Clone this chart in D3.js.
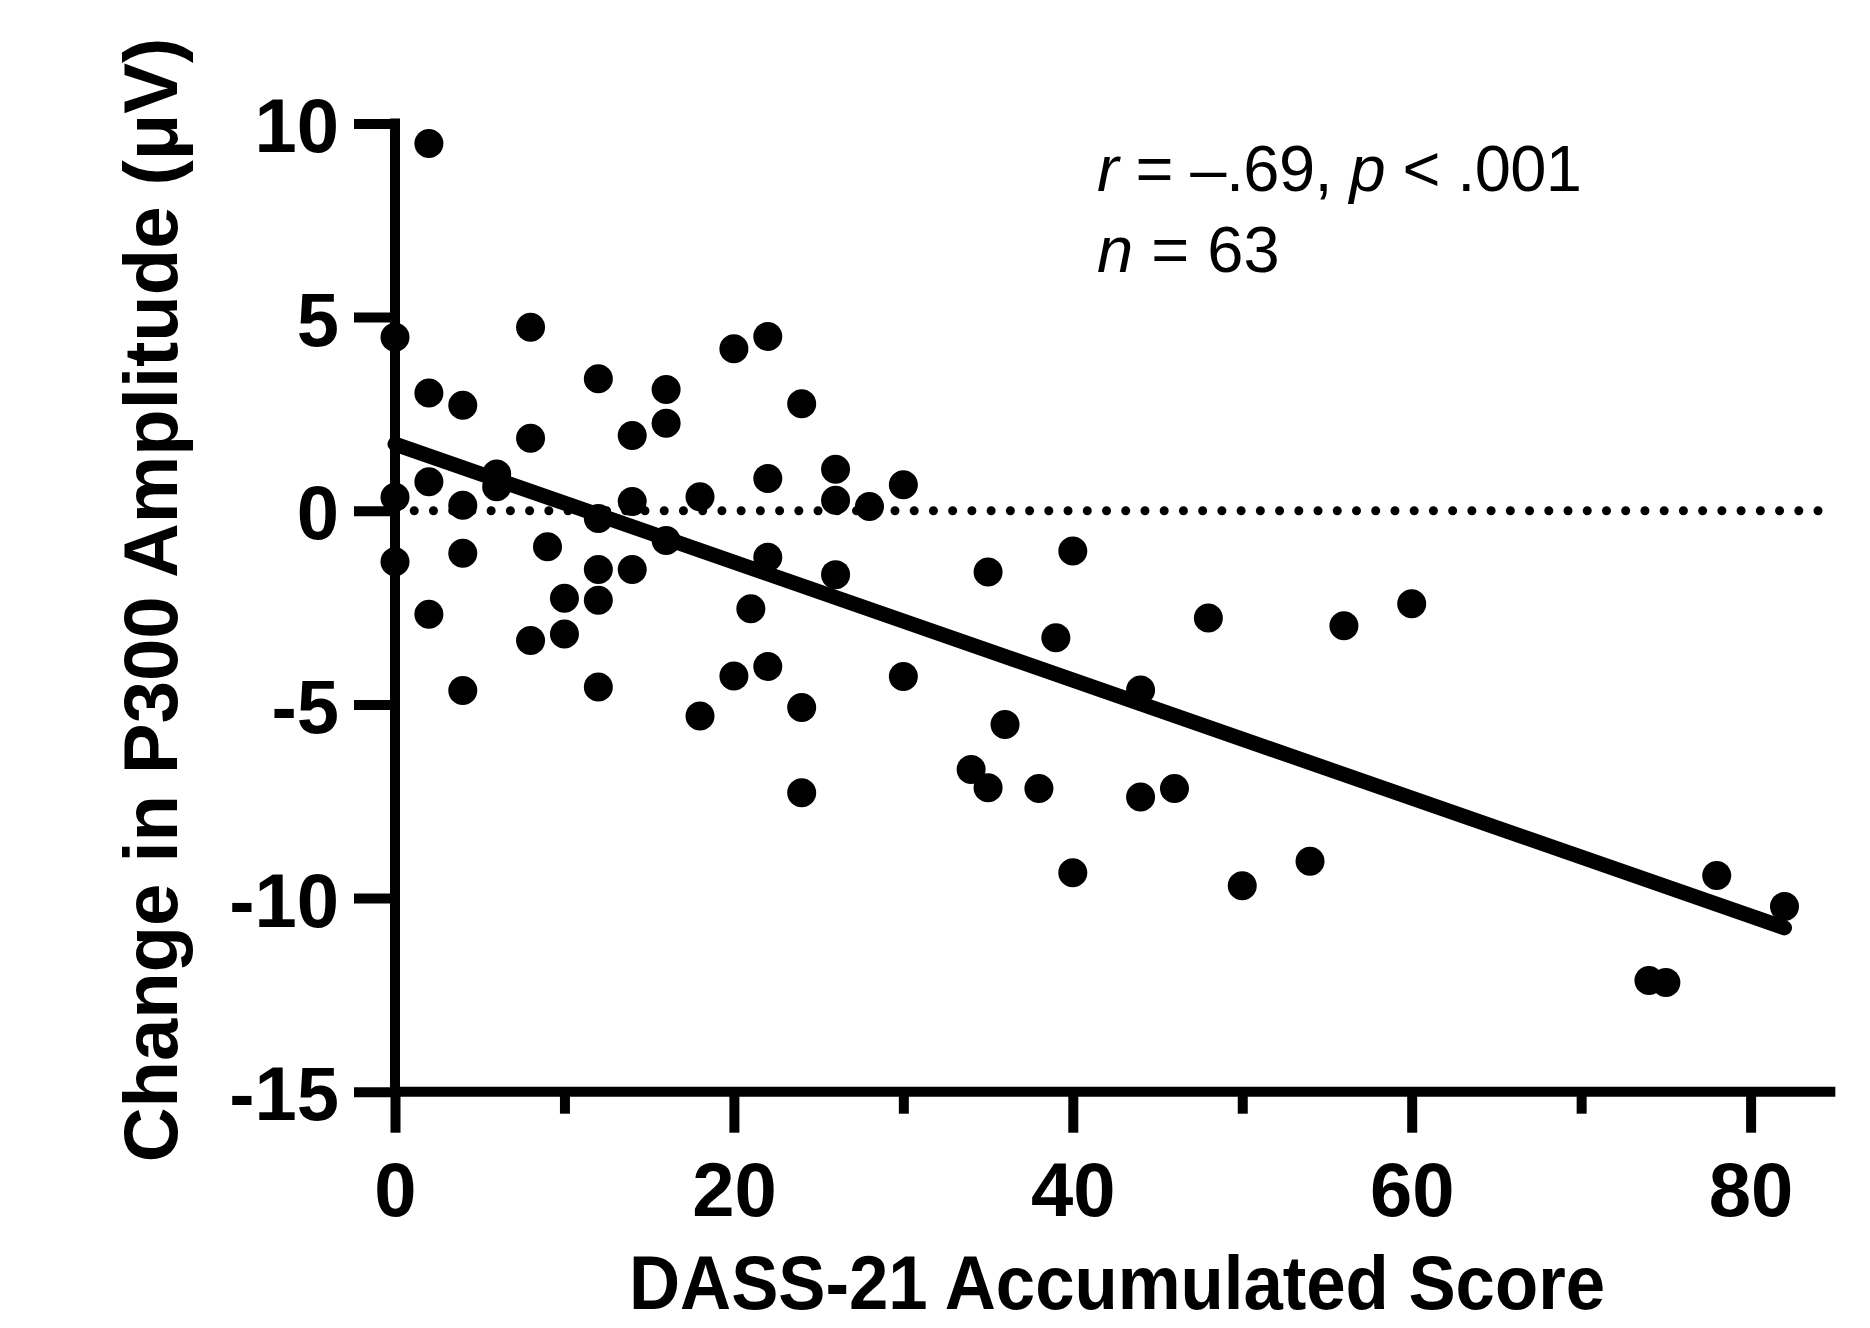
<!DOCTYPE html>
<html><head><meta charset="utf-8">
<script src="https://cdn.jsdelivr.net/npm/d3@7"></script>
<style>body{margin:0;background:#fff}</style>
</head><body>
<script>
// ---- data ----
const dassScore = [
  0,0,0, 2,2,2,2, 4,4,4,4, 6,6, 8,8,8, 9, 10,10, 12,12,12,12,12,
  14,14,14, 16,16,16, 18,18, 20,20, 21, 22,22,22,22, 24,24,24, 26,26,26,
  28, 30,30, 34, 35,35, 36, 38, 39, 40,40, 44,44, 46, 48, 50, 54, 56, 60,
  74, 75, 78, 82
];
const p300Change = [
  4.48,0.35,-1.32, 9.48,3.04,0.75,-2.67, 2.72,0.14,-1.10,-4.64, 0.95,0.62,
  4.74,1.87,-3.35, -0.93, -2.26,-3.18, 3.41,-0.20,-1.52,-2.31,-4.55,
  1.94,0.24,-1.52, 3.13,2.26,-0.77, 0.36,-5.30, 4.18,-4.27, -2.53,
  4.50,0.83,-1.20,-4.02, 2.76,-5.08,-7.28, 1.07,0.27,-1.65,
  0.11, 0.67,-4.28, -6.68, -1.58,-7.15, -5.52, -7.17, -3.28, -1.04,-9.35,
  -4.63,-7.39, -7.17, -2.77, -9.68, -9.05, -2.97, -2.40,
  -12.13, -12.18, -9.42, -10.22
];
const fitX = [0, 82];
const fitY = [1.72, -10.77];
const xTicksMajor = [0, 20, 40, 60, 80];
const xTicksMinor = [10, 30, 50, 70];
const yTicks = [-15, -10, -5, 0, 5, 10];
const xDomain = [0, 85];
const yDomain = [-15, 10];
const xTitle = "DASS-21 Accumulated Score";
const yTitle = "Change in P300 Amplitude (\u03BCV)";
const statLine1 = [["r", true], [" = \u2013.69, ", false], ["p", true], [" < .001", false]];
const statLine2 = [["n", true], [" = 63", false]];

// ---- drawing ----
const W = 1870, H = 1328;
const FONT = "'Liberation Sans', Arial, Helvetica, sans-serif";
const svg = d3.select("body").append("svg")
  .attr("width", W).attr("height", H)
  .style("background", "#fff");

const x = d3.scaleLinear().domain(xDomain).range([395, 395 + 85 * 16.945]);
const y = d3.scaleLinear().domain(yDomain).range([1091.7, 123.4]);
const LW = 10;

// zero reference dotted line
svg.append("line")
  .attr("x1", x(0)).attr("x2", x(84.2))
  .attr("y1", y(0)).attr("y2", y(0))
  .attr("stroke", "#000").attr("stroke-width", 9)
  .attr("stroke-linecap", "round")
  .attr("stroke-dasharray", "0 19.23");

// regression line
svg.append("line")
  .attr("x1", x(fitX[0])).attr("y1", y(fitY[0]))
  .attr("x2", x(fitX[1])).attr("y2", y(fitY[1]))
  .attr("stroke", "#000").attr("stroke-width", 15)
  .attr("stroke-linecap", "round");

// points
svg.append("g").selectAll("circle")
  .data(dassScore.map((d, i) => [d, p300Change[i]]))
  .join("circle")
  .attr("cx", d => x(d[0])).attr("cy", d => y(d[1]))
  .attr("r", 14.5).attr("fill", "#000");

// axes
const yAxis = d3.axisLeft(y).tickValues(yTicks).tickSize(41).tickSizeOuter(0)
  .tickPadding(15).tickFormat(d => String(d));
const gy = svg.append("g").attr("transform", `translate(${x(0)},0)`).call(yAxis);
gy.select(".domain").remove();
gy.selectAll(".tick line").attr("stroke-width", LW).attr("stroke", "#000");
gy.selectAll(".tick text").attr("font-family", FONT).attr("font-weight", "bold")
  .attr("font-size", 76).attr("dy", "0.37em").attr("fill", "#000");

const xAxis = d3.axisBottom(x).tickValues(xTicksMajor).tickSize(41).tickSizeOuter(0)
  .tickPadding(29).tickFormat(d => String(d));
const gx = svg.append("g").attr("transform", `translate(0,${y(-15)})`).call(xAxis);
gx.select(".domain").remove();
gx.selectAll(".tick line").attr("stroke-width", LW).attr("stroke", "#000");
gx.selectAll(".tick text").attr("font-family", FONT).attr("font-weight", "bold")
  .attr("font-size", 76).attr("fill", "#000");

const xMinor = d3.axisBottom(x).tickValues(xTicksMinor).tickSize(22).tickFormat("");
const gxm = svg.append("g").attr("transform", `translate(0,${y(-15)})`).call(xMinor);
gxm.select(".domain").remove();
gxm.selectAll(".tick line").attr("stroke-width", LW).attr("stroke", "#000");

// axis lines
svg.append("line")
  .attr("x1", x(0)).attr("x2", x(0))
  .attr("y1", y(10) - LW / 2).attr("y2", y(-15) + LW / 2)
  .attr("stroke", "#000").attr("stroke-width", LW);
svg.append("line")
  .attr("x1", x(0)).attr("x2", x(xDomain[1]))
  .attr("y1", y(-15)).attr("y2", y(-15))
  .attr("stroke", "#000").attr("stroke-width", LW);

// titles
svg.append("text")
  .attr("x", 1117).attr("y", 1309)
  .attr("text-anchor", "middle")
  .attr("font-family", FONT).attr("font-weight", "bold").attr("font-size", 76)
  .attr("textLength", 976).attr("lengthAdjust", "spacingAndGlyphs")
  .text(xTitle);

svg.append("text")
  .attr("transform", "translate(177,600) rotate(-90)")
  .attr("text-anchor", "middle")
  .attr("font-family", FONT).attr("font-weight", "bold").attr("font-size", 76)
  .text(yTitle);

// stats annotation
function statText(parts, yy, len) {
  const t = svg.append("text").attr("x", 1097).attr("y", yy)
    .attr("font-family", FONT).attr("font-size", 65).attr("fill", "#000");
  if (len) t.attr("textLength", len).attr("lengthAdjust", "spacing");
  parts.forEach(p => t.append("tspan").attr("font-style", p[1] ? "italic" : "normal").text(p[0]));
}
statText(statLine1, 190.7, 485);
statText(statLine2, 271.7, null);
</script>
</body></html>
